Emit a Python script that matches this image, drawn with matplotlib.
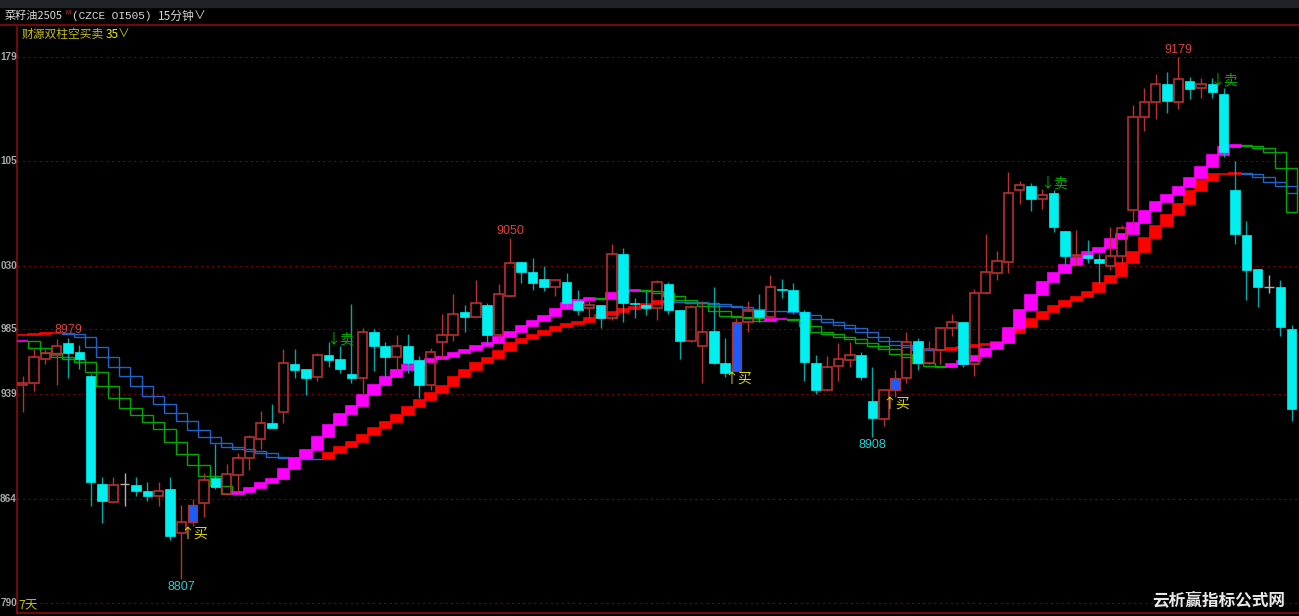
import matplotlib.pyplot as plt
from matplotlib.patches import Rectangle
from matplotlib.lines import Line2D

plt.rcParams['font.family'] = ['Noto Sans CJK SC', 'DejaVu Sans']

# 15-minute candles (open, high, low, close)
opens = [8945, 8947, 8964, 8967, 8975, 8969, 8952, 8875, 8862, 8875,
         8874, 8870, 8866, 8871, 8840, 8848, 8861, 8879, 8868, 8881,
         8893, 8907, 8918, 8926, 8960, 8957, 8951, 8967, 8964, 8953,
         8950, 8983, 8973, 8965, 8973, 8963, 8945, 8976, 8981, 8997,
         8994, 9002, 8981, 9009, 9033, 9026, 9021, 9015, 9019, 9005,
         9000, 9002, 8993, 9039, 9004, 9002, 9000, 9017, 8999, 8977,
         8973, 8984, 8961, 8955, 8990, 8999, 8994, 9014, 9013, 8997,
         8961, 8942, 8959, 8963, 8967, 8934, 8921, 8942, 8950, 8977,
         8961, 8970, 8986, 8990, 8960, 9011, 9025, 9033, 9084, 9087,
         9078, 9082, 9055, 9037, 9038, 9035, 9030, 9037, 9070, 9136,
         9147, 9160, 9147, 9162, 9157, 9160, 9153, 9084, 9052, 9028,
         9015, 9015, 8985]
highs = [8952, 8971, 8971, 8978, 8979, 8974, 8953, 8880, 8880, 8883,
         8880, 8876, 8876, 8880, 8860, 8864, 8883, 8903, 8889, 8897,
         8910, 8927, 8932, 8971, 8971, 8957, 8968, 8976, 8973, 9003,
         8986, 8985, 8976, 8981, 8982, 8966, 8972, 8996, 9010, 9002,
         9020, 9004, 9017, 9050, 9033, 9036, 9030, 9020, 9025, 9013,
         9005, 9002, 9046, 9043, 9007, 9012, 9020, 9019, 8999, 9002,
         9005, 9015, 8979, 8993, 9005, 9010, 9024, 9021, 9018, 8999,
         8967, 8966, 8975, 8976, 8969, 8958, 8942, 8956, 8983, 8979,
         8977, 8987, 8996, 8990, 9014, 9053, 9041, 9097, 9091, 9089,
         9085, 9084, 9055, 9056, 9049, 9039, 9058, 9059, 9145, 9157,
         9167, 9168, 9179, 9165, 9164, 9164, 9157, 9105, 9062, 9028,
         9024, 9020, 8988]
lows = [8926, 8941, 8960, 8945, 8950, 8957, 8859, 8847, 8861, 8859,
        8866, 8863, 8859, 8835, 8807, 8845, 8851, 8871, 8867, 8869,
        8885, 8900, 8915, 8918, 8950, 8938, 8948, 8958, 8954, 8947,
        8937, 8955, 8950, 8956, 8954, 8936, 8942, 8964, 8977, 8983,
        8994, 8974, 8977, 9008, 9018, 9013, 9012, 9009, 9001, 8995,
        8993, 8986, 8992, 8990, 8993, 8995, 8992, 8996, 8964, 8976,
        8947, 8960, 8951, 8955, 8983, 8990, 8992, 9007, 8996, 8948,
        8939, 8941, 8948, 8958, 8949, 8908, 8916, 8937, 8947, 8956,
        8960, 8960, 8980, 8958, 8952, 9010, 9020, 9025, 9074, 9069,
        9071, 9054, 9031, 9031, 9032, 9018, 9027, 9031, 9055, 9126,
        9135, 9139, 9142, 9149, 9150, 9150, 9108, 9046, 9006, 9001,
        9011, 8980, 8920]
closes = [8947, 8965, 8968, 8973, 8968, 8964, 8876, 8863, 8874, 8875,
          8870, 8866, 8870, 8838, 8848, 8860, 8878, 8873, 8882, 8893,
          8908, 8918, 8915, 8961, 8956, 8950, 8967, 8963, 8957, 8950,
          8983, 8973, 8965, 8973, 8961, 8945, 8969, 8981, 8996, 8994,
          9004, 8981, 9010, 9032, 9026, 9018, 9015, 9020, 9004, 8999,
          9002, 8993, 9039, 9004, 9003, 9000, 9019, 8999, 8977, 9001,
          8983, 8961, 8954, 8990, 8998, 8994, 9015, 9013, 8998, 8962,
          8942, 8958, 8964, 8967, 8951, 8922, 8942, 8950, 8976, 8961,
          8971, 8986, 8990, 8960, 9011, 9026, 9034, 9082, 9088, 9078,
          9081, 9058, 9037, 9038, 9036, 9032, 9037, 9057, 9136, 9147,
          9160, 9148, 9163, 9156, 9160, 9154, 9111, 9053, 9027, 9015,
          9015, 8987, 8928]

# indicator: fast column line (magenta / green) and slow column line (red / blue)
fast_line = [8976.7, 8971.7, 8968.1, 8965.5, 8963.8, 8961.9, 8954.8, 8944.6, 8935.8, 8928.7,
             8923.9, 8919.2, 8913.8, 8904.9, 8896.2, 8888.1, 8880.7, 8873.4, 8867.7, 8869.3,
             8872.2, 8875.3, 8878.1, 8885.3, 8893.1, 8899.0, 8908.5, 8916.8, 8924.7, 8930.4,
             8938.2, 8945.3, 8951.2, 8956.0, 8959.6, 8961.9, 8963.6, 8965.1, 8967.9, 8970.3,
             8973.1, 8975.0, 8979.3, 8983.3, 8987.4, 8991.1, 8994.5, 8999.2, 9003.5, 9005.9,
             9007.1, 9006.6, 9010.6, 9012.3, 9013.0, 9012.3, 9011.1, 9008.7, 9005.9, 9004.0,
             9001.6, 8998.3, 8994.5, 8994.0, 8993.0, 8990.9, 8992.1, 8992.3, 8991.6, 8987.4,
             8983.3, 8981.7, 8979.3, 8977.9, 8975.0, 8973.1, 8971.2, 8967.4, 8965.1, 8961.2,
             8958.9, 8957.9, 8960.3, 8962.4, 8966.3, 8970.7, 8975.0, 8985.7, 8998.8, 9009.4,
             9018.9, 9024.9, 9030.8, 9036.0, 9040.3, 9042.7, 9049.1, 9052.7, 9060.9, 9069.5,
             9075.9, 9080.7, 9086.6, 9092.6, 9100.4, 9109.2, 9114.7, 9116.3, 9115.6, 9114.0,
             9111.5, 9099.7, 9068.8]
slow_line = [8980.9, 8981.7, 8982.4, 8982.7, 8981.7, 8979.5, 8972.4, 8965.5, 8958.4, 8951.7,
             8944.8, 8937.7, 8931.8, 8925.6, 8919.7, 8913.3, 8908.1, 8903.8, 8900.9, 8899.7,
             8898.5, 8896.7, 8894.2, 8893.1, 8893.0, 8892.4, 8892.3, 8896.7, 8900.9, 8904.9,
             8909.7, 8914.5, 8919.2, 8923.9, 8929.9, 8934.6, 8939.8, 8944.6, 8951.2, 8956.0,
             8961.2, 8964.6, 8969.3, 8975.0, 8977.9, 8980.7, 8984.0, 8986.4, 8988.6, 8990.4,
             8992.8, 8995.2, 8997.5, 8999.2, 9000.7, 9003.4, 9005.2, 9004.8, 9004.7, 9004.5,
             9004.0, 9003.0, 9001.6, 9001.1, 8999.7, 8998.3, 8998.1, 8997.9, 8997.3, 8995.0,
             8992.6, 8990.2, 8988.3, 8985.7, 8983.1, 8979.7, 8976.9, 8973.8, 8972.2, 8970.3,
             8970.1, 8970.6, 8971.7, 8972.4, 8973.5, 8974.5, 8976.2, 8982.2, 8986.9, 8992.1,
             8997.5, 9001.6, 9005.4, 9008.2, 9011.8, 9017.8, 9023.0, 9032.0, 9039.9, 9049.8,
             9058.6, 9066.4, 9074.3, 9083.7, 9090.9, 9095.4, 9095.4, 9096.1, 9095.4, 9093.7,
             9090.2, 9087.1, 9082.3]

buy_bars = [15, 63, 77]
sell_bars = [28, 91, 106]
high_marks = [4, 43, 102]
low_marks = [14, 75]

grid_levels = [9179, 9105, 9030, 8985, 8939, 8864, 8790]
grid_labels = ['179', '105', '030', '985', '939', '864', '790']

W, H = 1299, 616
fig = plt.figure(figsize=(W / 100, H / 100), dpi=100, facecolor='black')


def fx(x):
    return x / W


def fy(y):
    return 1 - y / H


# header
fig.patches.append(Rectangle((0, fy(7)), 1, 7 / H, transform=fig.transFigure,
                             color='#1f2327', zorder=0))
fig.add_artist(Line2D([0, 1], [fy(25), fy(25)], color='#6e0a0a', lw=1.6))
fig.text(fx(5), fy(16), '菜籽油2505', color='#d8d8d8', fontsize=8.0, va='center')
fig.text(fx(65), fy(12.5), 'M', color='#e03030', fontsize=4.5, va='center',
         family=['Liberation Sans', 'DejaVu Sans'])
fig.text(fx(72), fy(16), '(CZCE OI505)', color='#d8d8d8', fontsize=8.0, va='center',
         family=['Liberation Mono', 'DejaVu Sans'])
fig.text(fx(158), fy(16), '15分钟', color='#d8d8d8', fontsize=8.5, va='center')
fig.text(fx(194), fy(16), '∨', color='#d8d8d8', fontsize=8.5, va='center')
fig.text(fx(22), fy(34), '财源双柱空买卖', color='#c8c000', fontsize=8.5, va='center')
fig.text(fx(106), fy(34), '35', color='#f0f000', fontsize=8.5, va='center')
fig.text(fx(118), fy(34), '∨', color='#c8c000', fontsize=8.5, va='center')

ax = fig.add_axes([fx(17), 3 / H, (W - 17) / W, 586 / H], facecolor='black')
ax.set_xlim(-0.503, 112.65)
ax.set_ylim(8782.9, 9200.4)
ax.set_xticks([])
ax.set_yticks([])
for side in ['top', 'right']:
    ax.spines[side].set_visible(False)
for side in ['left', 'bottom']:
    ax.spines[side].set_color('#8a0a0a')
    ax.spines[side].set_linewidth(1.2)

# dotted grid and price labels squeezed into the left margin
for lvl, lab in zip(grid_levels, grid_labels):
    ax.axhline(lvl, color='#7a0000', lw=0.8, ls=(0, (2, 3)), zorder=1)
    ax.text(0, lvl, lab, transform=ax.get_yaxis_transform(), ha='right',
            va='center', color='#a8a8a8', fontsize=7.2, fontweight='bold',
            family=['Liberation Sans', 'DejaVu Sans'], clip_on=False)


# stepped double columns
def draw_columns(vals, up_color, down_color, z):
    rising = True
    for i in range(len(vals)):
        prev = vals[i - 1] if i > 0 else vals[i]
        cur = vals[i]
        if cur > prev:
            rising = True
        elif cur < prev:
            rising = False
        lo, hi = min(prev, cur), max(prev, cur)
        if rising:
            ax.add_patch(Rectangle((i - 0.5, lo), 1.0, hi - lo, facecolor=up_color,
                                   edgecolor=up_color, lw=1.2, zorder=z))
        else:
            ax.add_patch(Rectangle((i - 0.5, lo), 1.0, hi - lo, facecolor='none',
                                   edgecolor=down_color, lw=1.0, zorder=z))


draw_columns(slow_line, '#ff0000', '#1f64c8', 2)
draw_columns(fast_line, '#ff00ff', '#00a800', 3)

# candles
bw = 0.84
for i in range(len(opens)):
    o, h, l, c = opens[i], highs[i], lows[i], closes[i]
    if i in buy_bars:
        ax.vlines(i, l, h, color='#b03030', lw=1.0, zorder=4)
        ax.add_patch(Rectangle((i - bw / 2, min(o, c)), bw, abs(c - o), facecolor='#1a5cff',
                               edgecolor='#b03030', lw=1.0, zorder=5))
    elif c > o:
        ax.vlines(i, c, h, color='#b83030', lw=1.0, zorder=4)
        ax.vlines(i, l, o, color='#b83030', lw=1.0, zorder=4)
        ax.add_patch(Rectangle((i - bw / 2, o), bw, c - o, facecolor='none',
                               edgecolor='#b83030', lw=1.2, zorder=5))
    elif c < o:
        ax.vlines(i, l, h, color='#00a8a8', lw=1.0, zorder=4)
        ax.add_patch(Rectangle((i - bw / 2, c), bw, o - c, facecolor='#00f0f0',
                               edgecolor='#00f0f0', lw=0.5, zorder=5))
    else:
        ax.vlines(i, l, h, color='#b0b0b0', lw=1.0, zorder=4)
        ax.hlines(o, i - bw / 2, i + bw / 2, color='#b0b0b0', lw=1.0, zorder=5)

# high / low marks
for i in high_marks:
    ax.annotate(str(highs[i]), (i, highs[i]), xytext=(0, 1), textcoords='offset points',
                ha='center', va='bottom', color='#e04040', fontsize=9,
                family=['Liberation Sans', 'DejaVu Sans'], zorder=6)
for i in low_marks:
    ax.annotate(str(lows[i]), (i, lows[i]), xytext=(0, -1), textcoords='offset points',
                ha='center', va='top', color='#20d0d8', fontsize=9,
                family=['Liberation Sans', 'DejaVu Sans'], zorder=6)

# buy / sell signals
for i in buy_bars:
    ax.annotate('↑买', (i, lows[i]), xytext=(1, -1), textcoords='offset points',
                ha='center', va='top', color='#e0d800', fontsize=10, zorder=6)
for i in sell_bars:
    ax.annotate('↓卖', (i, highs[i]), xytext=(0, 0), textcoords='offset points',
                ha='center', va='bottom', color='#00b000', fontsize=10, zorder=6)

fig.text(fx(18), fy(606), '7天', color='#c8c000', fontsize=9, va='center')
fig.text(fx(1152), fy(600), '云析赢指标公式网', color='#e8e8e8', fontsize=12,
         fontweight='bold', va='center')

fig.savefig('out.png', dpi=100, facecolor='black')
